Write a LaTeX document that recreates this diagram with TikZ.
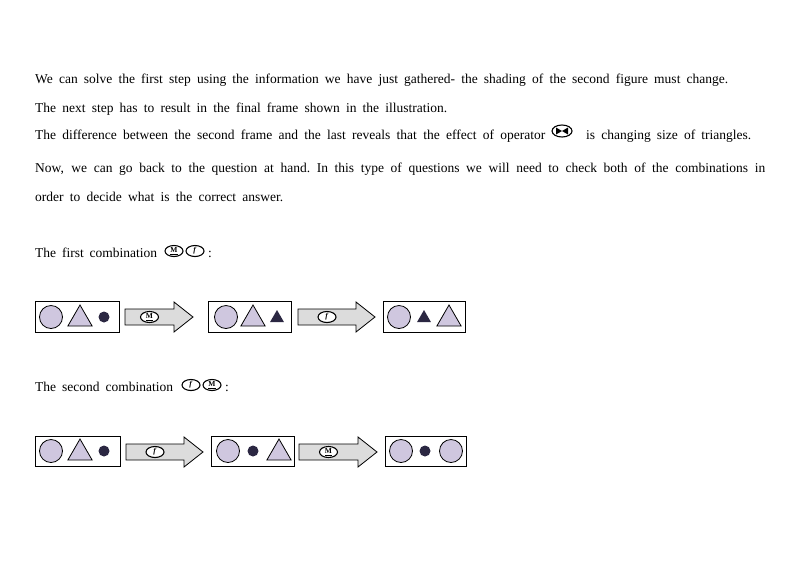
\documentclass[tikz,border=0pt]{standalone}
\usepackage{fontspec}
\setmainfont{Liberation Serif}
\usetikzlibrary{shapes.geometric}
\definecolor{lav}{HTML}{CFC7DF}
\definecolor{dk}{HTML}{2B2742}
\definecolor{arr}{HTML}{DCDCDC}
\tikzset{
  txt/.style={anchor=base west,inner sep=0pt,font=\fontsize{13.5}{15}\selectfont},
  frame/.style={draw,line width=0.9pt},
  bigc/.style={circle,draw,fill=lav,minimum size=23pt,inner sep=0pt,line width=0.8pt},
  smallc/.style={circle,fill=dk,minimum size=11pt,inner sep=0pt},
  bigt/.style={isosceles triangle,shape border rotate=90,isosceles triangle apex angle=60,draw,fill=lav,minimum height=21pt,inner sep=0pt,line width=0.8pt,yshift=-2pt},
  smallt/.style={isosceles triangle,shape border rotate=90,isosceles triangle apex angle=60,fill=dk,minimum height=12pt,inner sep=0pt,yshift=-1pt},
  op/.style={ellipse,draw,fill=white,minimum width=18pt,minimum height=11pt,inner sep=0pt,font=\fontsize{7.5}{7.5}\selectfont\bfseries,line width=1.1pt},
}
\newcommand{\myarrow}[4]{% x1 x2 ycenter label
  \draw[fill=arr,line width=0.8pt] (#1,#3-8) -- (#2-19,#3-8) -- (#2-19,#3-15) -- (#2,#3) -- (#2-19,#3+15) -- (#2-19,#3+8) -- (#1,#3+8) -- cycle;
  \node[op] at ({(#1+#2-19)/2},#3) {#4};}
\begin{document}
\begin{tikzpicture}[x=1pt,y=-1pt]
\useasboundingbox (0,0) rectangle (800,566);
\node[txt] (l1) at (35,83) {\makebox[693pt][s]{We can solve the first step using the information we have just gathered- the shading of the second figure must change.}};
\node[txt] (l2) at (35,112) {\makebox[412pt][s]{The next step has to result in the final frame shown in the illustration.}};
\node[txt] (l3a) at (35,139) {\makebox[510pt][s]{The difference between the second frame and the last reveals that the effect of operator}};
\node[op,minimum width=20pt,minimum height=12pt] (o3) at (562,131) {};
\fill (o3.center) ++(-6,-3.5) -- ++(0,7) -- ++(12,-7) -- ++(0,7) -- cycle;
\node[txt] (l3b) at (586,139) {\makebox[165pt][s]{is changing size of triangles.}};
\node[txt] (l4) at (35,172) {\makebox[730pt][s]{Now, we can go back to the question at hand.\ In this type of questions we will need to check both of the combinations in}};
\node[txt] (l5) at (35,201) {\makebox[248pt][s]{order to decide what is the correct answer.}};
\node[txt] (l6) at (35,257) {\makebox[122pt][s]{The first combination}};
\node[op] (o6a) at (174,251) {\underline{M}};
\node[op] (o6b) at (195,251) {\textit{f}};
\node[txt] (c6) at (208,257) {:};
\node[txt] (l7) at (35,391) {\makebox[138pt][s]{The second combination}};
\node[op] (o7a) at (191,385) {\textit{f}};
\node[op] (o7b) at (212,385) {\underline{M}};
\node[txt] (c7) at (225,391) {:};
% row 1
\draw[frame] (35,301) rectangle (119,332);
\node[bigc] at (51,317) {}; \node[bigt] at (80,317) {}; \node[smallc] at (104,317) {};
\myarrow{125}{193}{317}{\underline{M}}
\draw[frame] (208,301) rectangle (291,332);
\node[bigc] at (226,317) {}; \node[bigt] at (253,317) {}; \node[smallt] at (277,317) {};
\myarrow{298}{375}{317}{\textit{f}}
\draw[frame] (383,301) rectangle (465,332);
\node[bigc] at (399,317) {}; \node[smallt] at (424,317) {}; \node[bigt] at (449,317) {};
% row 2
\draw[frame] (35,436) rectangle (120,466);
\node[bigc] at (51,451) {}; \node[bigt] at (80,451) {}; \node[smallc] at (104,451) {};
\myarrow{126}{203}{452}{\textit{f}}
\draw[frame] (211,436) rectangle (294,466);
\node[bigc] at (228,451) {}; \node[smallc] at (253,451) {}; \node[bigt] at (279,451) {};
\myarrow{299}{377}{452}{\underline{M}}
\draw[frame] (385,436) rectangle (466,466);
\node[bigc] at (401,451) {}; \node[smallc] at (425,451) {}; \node[bigc] at (451,451) {};
\end{tikzpicture}
\end{document}
